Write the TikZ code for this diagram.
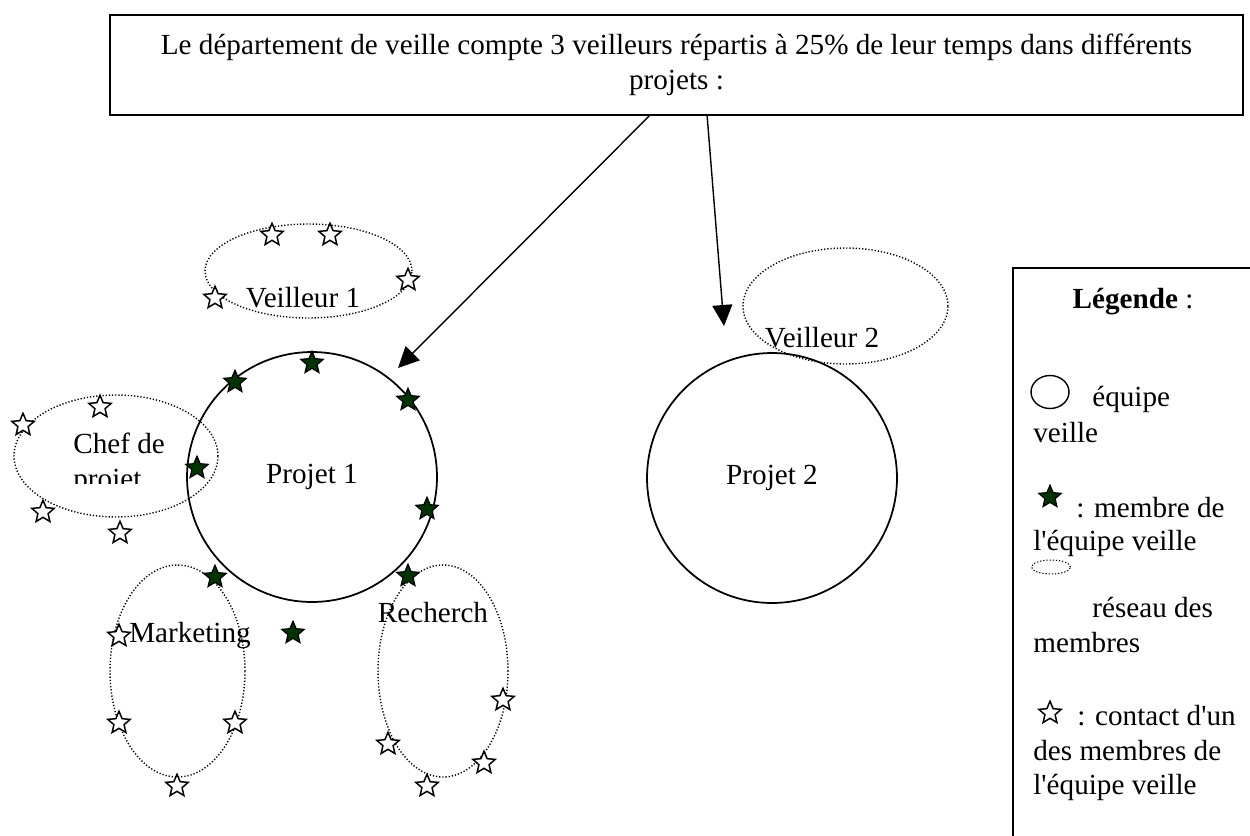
\documentclass[tikz,border=0pt]{standalone}
\usepackage{fontspec}
\setmainfont{Liberation Serif}[Ligatures=TeXOff]
\usetikzlibrary{shapes.geometric,arrows.meta,calc}
\definecolor{vertveille}{RGB}{0,51,0}
\tikzset{
  every node/.style={font=\fontsize{16.6}{19.8}\selectfont},
  texte/.style={inner sep=0pt},
  equipe/.style={draw,circle,line width=1pt,minimum size=5cm,inner sep=0pt},
  reseau/.style={draw,ellipse,line width=0.8pt,dash pattern=on 0.7pt off 1.1pt,inner sep=0pt},
  membre/.style={draw,star,star points=5,star point ratio=2.2,fill=vertveille,line width=0.7pt,minimum size=0.47cm,inner sep=0pt},
  contact/.style={membre,fill=white,line width=0.85pt},
  fleche/.style={-{Triangle[length=0.42cm,width=0.4cm]},line width=0.8pt}
}
\begin{document}
\begin{tikzpicture}[x=0.02cm,y=-0.02cm]
\useasboundingbox (0,0) rectangle (1250,835);

\node[draw,line width=1pt,minimum width=22.66cm,minimum height=2cm,align=center,inner sep=0pt] (dept) at (676.5,65)
  {Le département de veille compte 3 veilleurs répartis à 25\% de leur temps dans différents\\projets :};

% reseaux des membres
\node[reseau,minimum width=4.14cm,minimum height=1.88cm] (v1) at (308.5,271) {};
\node[reseau,minimum width=4.1cm,minimum height=2.32cm] (v2) at (845.5,306) {};
\node[reseau,minimum width=4.08cm,minimum height=2.44cm] (chef) at (116,456) {};
\node[reseau,minimum width=2.7cm,minimum height=4.24cm] (mkt) at (177.5,671) {};
\node[reseau,minimum width=2.6cm,minimum height=4.24cm] (rech) at (443,671) {};

\node[texte] (tv1) at (303,298) {Veilleur 1};
\node[texte] (tv2) at (822,338) {Veilleur 2};
\node[texte] (tmkt) at (190,636) {Marketing};
\node[texte] (trech) at (433,613) {Recherch};
\begin{scope}
\clip (60,420) rectangle (200,483);
\node[texte,anchor=base west] (tchef1) at (73,453) {Chef de};
\node[texte,anchor=base west] (tchef2) at (73,488) {projet};
\end{scope}

% equipes
\node[equipe] (p1) at (312,477) {Projet 1};
\node[equipe] (p2) at (772,478) {Projet 2};

\draw[fleche] ($(dept.south west)!0.476!(dept.south east)$) -- (398,368) coordinate (f1);
\draw[fleche] ($(dept.south west)!0.527!(dept.south east)$) -- (724,326) coordinate (f2);

\foreach \p [count=\i] in {(312,363),(235,382),(408,400),(197,468),(427,509),(215,577),(408,576),(293,633)}
  \node[membre] (m\i) at \p {};
\foreach \p [count=\i] in {(272,235),(330,235),(408,280),(215,298),(100,407),(23,425),(43,512),(120,533),
    (119,636),(119,723),(235,723),(177,786),(503,700),(388,744),(484,763),(427,786)}
  \node[contact] (c\i) at \p {};

% legende
\node[draw,line width=1pt,anchor=north west,minimum width=5cm,minimum height=12cm,inner sep=0pt] (legende) at (1012,267) {};
\node[texte] (ltitre) at (1133,302) {\textbf{Légende} :};
\node[draw,ellipse,line width=0.8pt,minimum width=0.76cm,minimum height=0.66cm,inner sep=0pt] (lequipe) at (1050,392) {};
\node[membre] (lmembre) at (1050,497) {};
\node[reseau,line width=0.6pt,minimum width=0.78cm,minimum height=0.28cm] (lreseau) at (1051,567) {};
\node[contact] (lcontact) at (1050,713) {};
\foreach \x/\y/\t [count=\i] in {1092/406/équipe,1033/442/veille,1076/517/{: membre de},1033/550/{l'équipe veille},
    1092/617/{réseau des},1033/652/membres,1077/725/{: contact d'un},1033/760/{des membres de},1033/794/{l'équipe veille}}
  \node[texte,anchor=base west] (l\i) at (\x,\y) {\t};
\end{tikzpicture}
\end{document}
